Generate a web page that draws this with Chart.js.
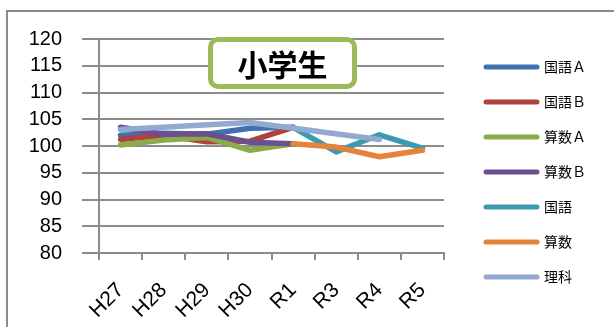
<!DOCTYPE html>
<html>
<head>
<meta charset="utf-8">
<script src="https://cdn.jsdelivr.net/npm/chart.js@4"></script>
<style>
  html, body { margin: 0; padding: 0; background: #fff; }
  #wrap { position: relative; width: 614px; height: 327px; overflow: hidden; }
  #frame { position: absolute; left: 6px; top: 10px; right: -10px; bottom: -10px;
           border-left: 2px solid #8c8c8c; border-top: 2px solid #8c8c8c; }
  #c { position: absolute; left: 0; top: 0; }
  #badge { position: absolute; left: 208px; top: 37px; width: 139px; height: 42px;
           border: 5px solid #9bbb59; border-radius: 10px; background: #fff;
           font: bold 30px 'Noto Sans CJK JP', sans-serif; line-height: 42px;
           text-align: center; color: #000; }
</style>
</head>
<body>
<div id="wrap">
  <div id="frame"></div>
  <canvas id="c" width="614" height="327"></canvas>
  <div id="badge">小学生</div>
</div>
<script>
// 年度
const years = ['H27', 'H28', 'H29', 'H30', 'R1', 'R3', 'R4', 'R5'];

// 各教科の値（実施のない年度は null）
const kokugoA  = [102.0, 102.4, 102.2, 103.3, 103.5, null, null, null];
const kokugoB  = [101.2, 102.0, 100.8, 100.9, 103.5, null, null, null];
const sansuA   = [100.2, 101.1, 101.6,  99.2, 100.4, null, null, null];
const sansuB   = [103.5, 102.2, 102.3, 100.7, 100.4, null, null, null];
const kokugo   = [null, null, null, null, 103.5,  98.9, 102.1,  99.6];
const sansu    = [null, null, null, null, 100.4,  99.8,  98.0,  99.2];
const rika     = [103.1, null, null, 104.4, null, null, 101.2, null];

// 縦軸の目盛
const yMin = 80, yMax = 120, yStep = 5;

const seriesNames  = ['国語Ａ', '国語Ｂ', '算数Ａ', '算数Ｂ', '国語', '算数', '理科'];
const seriesValues = [kokugoA, kokugoB, sansuA, sansuB, kokugo, sansu, rika];
const seriesColors = ['#4170ae', '#b0413e', '#8aab4a', '#6b4f91', '#3c9bb3', '#e5833a', '#92a9d1'];

const axisGray = '#8c8c8c';

const datasets = seriesNames.map((name, i) => ({
  label: name,
  data: seriesValues[i],
  borderColor: seriesColors[i],
  backgroundColor: seriesColors[i],
  borderWidth: 5.5,
  borderCapStyle: 'round',
  borderJoinStyle: 'round',
  pointRadius: 0,
  pointHoverRadius: 0,
  tension: 0,
  fill: false,
  spanGaps: name === '理科',
  order: seriesNames.length - 1 - i   // later series drawn on top
}));

new Chart(document.getElementById('c'), {
  type: 'line',
  data: { labels: years, datasets },
  options: {
    responsive: false,
    animation: false,
    devicePixelRatio: 1,
    events: [],
    layout: { padding: { left: 0, top: 39, right: 19, bottom: 0 } },
    plugins: {
      tooltip: { enabled: false },
      legend: {
        position: 'right',
        align: 'start',
        maxWidth: 130,
        labels: {
          usePointStyle: true,
          pointStyle: 'line',
          pointStyleWidth: 51,
          padding: 21,
          color: '#000',
          font: { family: "'Noto Sans CJK JP', sans-serif", size: 14 },
          generateLabels(chart) {
            const items = Chart.defaults.plugins.legend.labels.generateLabels(chart);
            items.forEach(it => { it.lineWidth = 5; it.lineCap = 'round'; });
            return items;
          },
          sort: (a, b) => a.datasetIndex - b.datasetIndex
        }
      }
    },
    scales: {
      x: {
        offset: true,
        grid: { drawOnChartArea: false, offset: true, tickLength: 7, color: axisGray, lineWidth: 2 },
        border: { color: axisGray, width: 2 },
        ticks: {
          minRotation: 45, maxRotation: 45, autoSkip: false,
          color: '#000', padding: 18,
          font: { family: "'Liberation Sans', sans-serif", size: 21 }
        },
        afterFit(s) { s.height = 74; }
      },
      y: {
        min: yMin, max: yMax,
        grid: { color: axisGray, lineWidth: 2, tickLength: 17 },
        border: { color: axisGray, width: 2 },
        ticks: {
          stepSize: yStep, autoSkip: false, color: '#000', padding: 20,
          font: { family: "'Liberation Sans', sans-serif", size: 20 }
        },
        afterFit(s) { s.width = 99; }
      },
      gap: {
        type: 'linear',
        position: 'right',
        display: true,
        grid: { display: false, drawTicks: false },
        border: { display: false },
        ticks: { display: false },
        afterFit(s) { s.width = 21; }
      }
    }
  }
});
</script>
</body>
</html>
